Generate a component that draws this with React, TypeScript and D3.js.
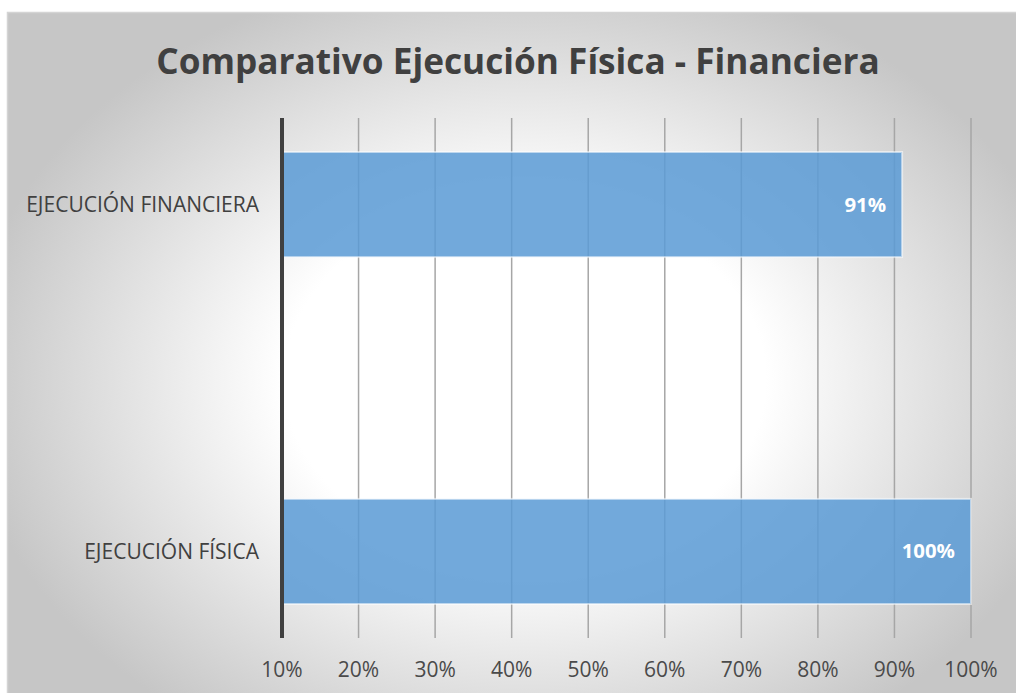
import React from "react";
import * as d3 from "d3";

const categories = ["EJECUCIÓN FINANCIERA", "EJECUCIÓN FÍSICA"];
const values = [0.91, 1.0];
const tickValues = [0.1, 0.2, 0.3, 0.4, 0.5, 0.6, 0.7, 0.8, 0.9, 1.0];
const title = "Comparativo Ejecución Física - Financiera";

const W = 1016;
const H = 693;
const FONT = "'Open Sans', 'Noto Sans', sans-serif";

export default function App() {
  const x = d3.scaleLinear().domain([0.1, 1.0]).range([282, 971]);
  const y = d3
    .scaleBand<string>()
    .domain(categories)
    .range([118, 638])
    .paddingInner(0.697)
    .paddingOuter(0.098);
  const fmt = d3.format(".0%");
  const bw = y.bandwidth();

  return (
    <svg
      width={W}
      height={H}
      style={{ position: "absolute", left: 0, top: 0, display: "block" }}
      fontFamily={FONT}
    >
      <defs>
        <radialGradient
          id="bg"
          gradientUnits="userSpaceOnUse"
          cx={525}
          cy={380}
          r={560}
          gradientTransform="translate(0,380) scale(1,0.75) translate(0,-380)"
        >
          <stop offset="0" stopColor="#ffffff" />
          <stop offset="0.43" stopColor="#ffffff" />
          <stop offset="0.7" stopColor="#e4e4e4" />
          <stop offset="1" stopColor="#c6c6c6" />
        </radialGradient>
      </defs>
      <rect x={0} y={0} width={W} height={H} fill="#ffffff" />
      <rect x={7.5} y={12.5} width={W} height={H} fill="url(#bg)" stroke="#d4d4d4" strokeWidth={1.5} />

      <text
        x={518}
        y={74}
        textAnchor="middle"
        fontSize={35.2}
        fontWeight={700}
        fill="#404040"
      >
        {title}
      </text>

      {tickValues.slice(1).map((t) => (
        <line
          key={"g" + t}
          x1={x(t)}
          x2={x(t)}
          y1={118}
          y2={638}
          stroke="#a6a6a6"
          strokeWidth={1.5}
        />
      ))}

      {categories.map((c, i) => (
        <g key={c}>
          <rect
            x={x(0.1)}
            y={y(c)}
            width={x(values[i]) - x(0.1)}
            height={bw}
            fill="#5b9bd5"
            fillOpacity={0.86}
            stroke="#ffffff"
            strokeOpacity={0.55}
            strokeWidth={2}
          />
          <text
            x={x(values[i]) - 16}
            y={(y(c) as number) + bw / 2 + 7}
            textAnchor="end"
            fontSize={20.4}
            fontWeight={700}
            fill="#ffffff"
          >
            {fmt(values[i])}
          </text>
          <text
            x={259}
            y={(y(c) as number) + bw / 2 + 7.5}
            textAnchor="end"
            fontSize={21}
            fill="#404040"
          >
            {c}
          </text>
        </g>
      ))}

      <line x1={x(0.1)} x2={x(0.1)} y1={118} y2={638} stroke="#404040" strokeWidth={4} />

      {tickValues.map((t) => (
        <text
          key={"t" + t}
          x={x(t)}
          y={677}
          textAnchor="middle"
          fontSize={21}
          fill="#4a4a4a"
        >
          {fmt(t)}
        </text>
      ))}
    </svg>
  );
}
